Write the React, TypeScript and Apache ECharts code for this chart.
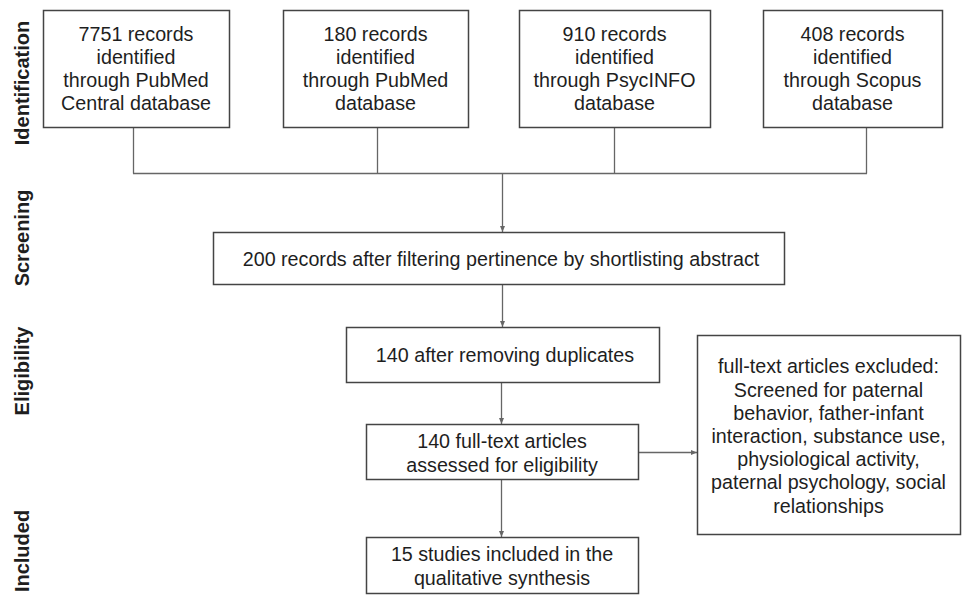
import React, { useEffect, useRef } from "react";
import * as echarts from "echarts";

const stageLabels = ["Identification", "Screening", "Eligibility", "Included"];
const sourceCounts = [7751, 180, 910, 408];
const sourceNames = ["PubMed\nCentral", "PubMed", "PsycINFO", "Scopus"];
const screenedCount = 200;
const dedupCount = 140;
const assessedCount = 140;
const includedCount = 15;
const exclusionReasons = [
  "full-text articles excluded:",
  "Screened for paternal",
  "behavior, father-infant",
  "interaction, substance use,",
  "physiological activity,",
  "paternal psychology, social",
  "relationships",
];

const FONT = "Liberation Sans, Arial, Helvetica, sans-serif";
const TEXT = "#1e1e1e";
const BOX = "#444";
const LINE = "#666";

function sourceText(i: number) {
  const n = sourceNames[i];
  if (n.includes("\n")) {
    const [a, b] = n.split("\n");
    return `${sourceCounts[i]} records\nidentified\nthrough ${a}\n${b} database`;
  }
  return `${sourceCounts[i]} records\nidentified\nthrough ${n}\ndatabase`;
}

function box(x1: number, y1: number, x2: number, y2: number) {
  return {
    type: "rect",
    shape: { x: x1 + 0.5, y: y1 + 0.5, width: x2 - x1, height: y2 - y1 },
    style: { fill: "#fff", stroke: BOX, lineWidth: 1.5 },
  };
}
function txt(cx: number, cy: number, text: string, size = 19.7, bold = false, rot = 0) {
  return {
    type: "text",
    x: cx,
    y: cy,
    rotation: rot,
    style: {
      text,
      x: 0,
      y: 0,
      align: "center",
      verticalAlign: "middle",
      fill: TEXT,
      font: `${bold ? "bold " : ""}${size}px ${FONT}`,
      lineHeight: 23.2,
    },
  };
}
function seg(x1: number, y1: number, x2: number, y2: number) {
  return {
    type: "line",
    shape: { x1, y1, x2, y2 },
    style: { stroke: LINE, lineWidth: 1.3 },
  };
}
function headDown(x: number, y: number) {
  return {
    type: "polygon",
    shape: { points: [[x - 2.5, y - 6], [x + 2.5, y - 6], [x, y]] },
    style: { fill: LINE },
  };
}
function headRight(x: number, y: number) {
  return {
    type: "polygon",
    shape: { points: [[x - 6, y - 2.5], [x - 6, y + 2.5], [x, y]] },
    style: { fill: LINE },
  };
}

export default function App() {
  const ref = useRef<HTMLDivElement>(null);
  useEffect(() => {
    if (!ref.current) return;
    const chart = echarts.init(ref.current, undefined, { renderer: "svg" });
    const srcBoxes = [
      [43, 229],
      [283, 468],
      [519, 710],
      [763, 942],
    ];
    const drops = [133, 377, 614, 866];
    const g: any[] = [];
    // stage labels
    const stageY = [83, 238, 371, 551];
    stageLabels.forEach((s, i) => g.push(txt(22, stageY[i], s, 20, true, Math.PI / 2)));
    // connectors
    drops.forEach((x) => g.push(seg(x + 0.5, 127, x + 0.5, 173.5)));
    g.push(seg(drops[0], 173.5, drops[3] + 1, 173.5));
    g.push(seg(502.5, 173.5, 502.5, 232));
    g.push(headDown(502.5, 232));
    g.push(seg(502.5, 284, 502.5, 327));
    g.push(headDown(502.5, 327));
    g.push(seg(501.5, 382, 501.5, 424));
    g.push(headDown(501.5, 424));
    g.push(seg(501.5, 479, 501.5, 537));
    g.push(headDown(501.5, 537));
    g.push(seg(638, 452.5, 697, 452.5));
    g.push(headRight(697, 452.5));
    // source boxes
    srcBoxes.forEach(([a, b], i) => {
      g.push(box(a, 10, b, 127));
      g.push(txt((a + b) / 2, 68.5, sourceText(i)));
    });
    g.push(box(213, 232, 784, 284));
    g.push(txt(501, 259, `${screenedCount} records after filtering pertinence by shortlisting abstract`));
    g.push(box(346, 327, 659, 382));
    g.push(txt(505, 355, `${dedupCount} after removing duplicates`));
    g.push(box(366, 424, 638, 479));
    g.push(txt(502, 453, `${assessedCount} full-text articles\nassessed for eligibility`));
    g.push(box(366, 537, 638, 593));
    g.push(txt(502, 566, `${includedCount} studies included in the\nqualitative synthesis`));
    g.push(box(697, 335, 960, 534));
    g.push(txt(828.5, 436, exclusionReasons.join("\n")));

    chart.setOption({
      animation: false,
      backgroundColor: "#fff",
      graphic: { elements: g },
    });
    return () => chart.dispose();
  }, []);
  return (
    <div
      ref={ref}
      style={{ position: "fixed", left: 0, top: 0, width: 962, height: 598, background: "#fff" }}
    />
  );
}
